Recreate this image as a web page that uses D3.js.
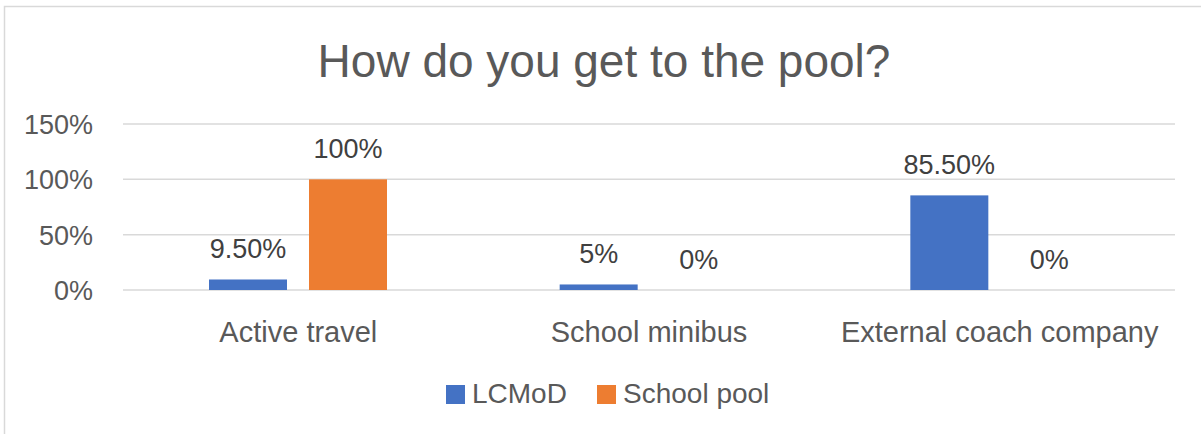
<!DOCTYPE html>
<html>
<head>
<meta charset="utf-8">
<style>
  body { margin: 0; background: #fff; font-family: "Liberation Sans", Arial, sans-serif; }
  svg { display: block; }
</style>
<script src="https://cdn.jsdelivr.net/npm/d3@7"></script>
</head>
<body>
<script>
var categories = ["Active travel", "School minibus", "External coach company"];
var seriesNames = ["LCMoD", "School pool"];
var lcmod = [0.095, 0.05, 0.855];
var schoolPool = [1.0, 0, 0];
var lcmodLabels = ["9.50%", "5%", "85.50%"];
var poolLabels = ["100%", "0%", "0%"];
var yTicks = [0, 0.5, 1, 1.5];
var colors = ["#4472C4", "#ED7D31"];

var W = 1201, H = 434;
var svg = d3.select("body").append("svg").attr("width", W).attr("height", H);

// chart frame
svg.append("rect")
  .attr("x", 4.5).attr("y", 6.5)
  .attr("width", W + 10).attr("height", H + 10)
  .attr("fill", "#fff").attr("stroke", "#d9d9d9").attr("stroke-width", 1.5);

svg.append("text")
  .attr("x", 604).attr("y", 77)
  .attr("text-anchor", "middle")
  .attr("font-size", 46)
  .attr("fill", "#595959")
  .text("How do you get to the pool?");

var x0 = d3.scaleBand().domain(categories).range([123, 1175]);
var x1 = d3.scaleBand().domain(seriesNames).range([86, 264]).paddingInner(0.22);
var y = d3.scaleLinear().domain([0, 1.5]).range([290, 124]);

// gridlines
svg.append("g").selectAll("line").data(yTicks).enter().append("line")
  .attr("x1", 123).attr("x2", 1175)
  .attr("y1", d => y(d)).attr("y2", d => y(d))
  .attr("stroke", "#d9d9d9").attr("stroke-width", 1.5);

var yAxis = d3.axisLeft(y).tickValues(yTicks).tickFormat(d3.format(".0%")).tickSize(0).tickPadding(0);
var ya = svg.append("g").attr("transform", "translate(93,0)").call(yAxis);
ya.select(".domain").remove();
ya.selectAll("text").attr("font-size", 27).attr("fill", "#595959")
  .attr("font-family", "Liberation Sans, Arial, sans-serif").attr("dy", "0.35em");

var rows = categories.map((c, i) => ({
  cat: c,
  vals: [
    {s: seriesNames[0], v: lcmod[i], lab: lcmodLabels[i], col: colors[0]},
    {s: seriesNames[1], v: schoolPool[i], lab: poolLabels[i], col: colors[1]}
  ]
}));

var groups = svg.append("g").selectAll("g").data(rows).enter().append("g")
  .attr("transform", d => "translate(" + x0(d.cat) + ",0)");

groups.selectAll("rect").data(d => d.vals).enter().append("rect")
  .attr("x", d => x1(d.s)).attr("width", x1.bandwidth())
  .attr("y", d => y(d.v)).attr("height", d => y(0) - y(d.v))
  .attr("fill", d => d.col);

groups.selectAll("text").data(d => d.vals).enter().append("text")
  .attr("x", d => x1(d.s) + x1.bandwidth() / 2)
  .attr("y", d => y(d.v) - 21)
  .attr("text-anchor", "middle")
  .attr("font-size", 27).attr("fill", "#404040")
  .text(d => d.lab);

var xAxis = d3.axisBottom(x0).tickSize(0).tickPadding(0);
var xa = svg.append("g").attr("transform", "translate(0,342)").call(xAxis);
xa.select(".domain").remove();
xa.selectAll("text").attr("font-size", 29).attr("fill", "#595959")
  .attr("font-family", "Liberation Sans, Arial, sans-serif").attr("dy", 0);

// legend
var legendX = [446, 597];
var leg = svg.append("g").selectAll("g").data(seriesNames).enter().append("g")
  .attr("transform", (d, i) => "translate(" + legendX[i] + ",385)");
leg.append("rect").attr("width", 19).attr("height", 19).attr("fill", (d, i) => colors[i]);
leg.append("text").attr("x", 26).attr("y", 18)
  .attr("font-size", 28).attr("fill", "#595959").text(d => d);
</script>
</body>
</html>
